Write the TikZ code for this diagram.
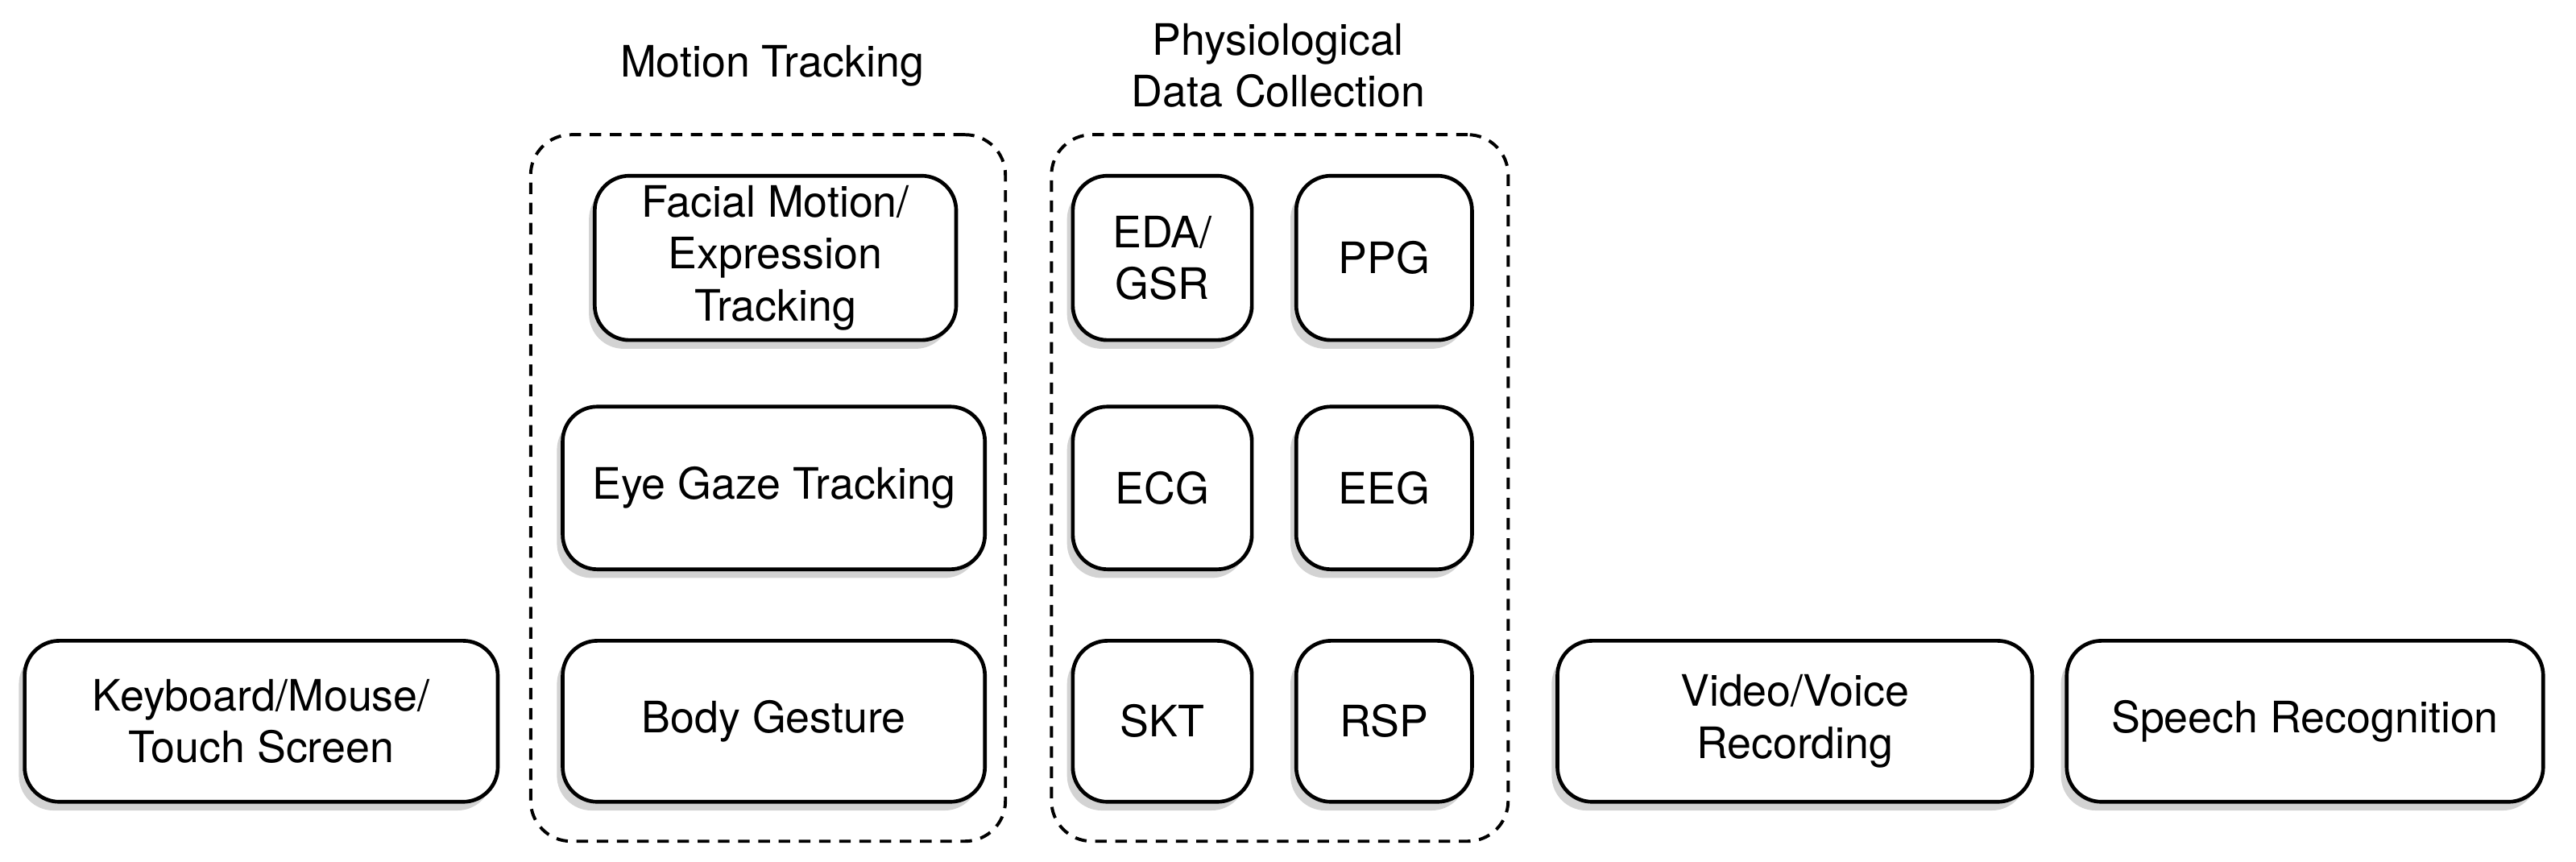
\documentclass[tikz,border=0pt]{standalone}
\usepackage{fontspec}
\setmainfont{TeX Gyre Heros}
\usetikzlibrary{
		positioning,
		shadows
	}
\tikzset{
		>=stealth,
		box/.style={draw, line width=1.3pt, rounded corners=12pt, fill=white, align=center,
			font=\fontsize{15}{18}\selectfont,
			drop shadow={shadow xshift=-2pt, shadow yshift=-3pt, opacity=.35, fill=gray}},
		group/.style={draw, line width=1.1pt, dash pattern=on 4pt off 3pt, rounded corners=14pt},
		title/.style={align=center, font=\fontsize{15}{18}\selectfont}
	}
\begin{document}
\begin{tikzpicture}
          \useasboundingbox (0,0) rectangle (31.36,10.49);

          % groups
          \node[group, minimum width=5.78cm, minimum height=8.6cm] (motion) at (9.35,4.55) {};
          \node[group, minimum width=5.56cm, minimum height=8.6cm] (physio) at (15.58,4.55) {};
          \node[title] (motiontitle) at (9.4,9.69) {Motion Tracking};
          \node[title] (physiotitle) at (15.56,9.69) {Physiological\\Data Collection};

          % motion tracking
          \node[box, minimum width=4.4cm, minimum height=2.0cm] (face) at (9.44,7.35) {Facial Motion/\\Expression\\Tracking};
          \node[box, minimum width=5.14cm, minimum height=1.98cm] (eye) at (9.42,4.55) {Eye Gaze Tracking};
          \node[box, minimum width=5.14cm, minimum height=1.96cm] (body) at (9.42,1.71) {Body Gesture};

          % physiological
          \node[box, minimum width=2.18cm, minimum height=2.0cm] (eda) at (14.15,7.35) {EDA/\\GSR};
          \node[box, minimum width=2.14cm, minimum height=2.0cm] (ppg) at (16.85,7.35) {PPG};
          \node[box, minimum width=2.18cm, minimum height=1.98cm] (ecg) at (14.15,4.55) {ECG};
          \node[box, minimum width=2.14cm, minimum height=1.98cm] (eeg) at (16.85,4.55) {EEG};
          \node[box, minimum width=2.18cm, minimum height=1.96cm] (skt) at (14.15,1.71) {SKT};
          \node[box, minimum width=2.14cm, minimum height=1.96cm] (rsp) at (16.85,1.71) {RSP};

          % others
          \node[box, minimum width=5.76cm, minimum height=1.96cm] (keyboard) at (3.18,1.71) {Keyboard/Mouse/\\Touch Screen};
          \node[box, minimum width=5.78cm, minimum height=1.96cm] (video) at (21.85,1.71) {Video/Voice\\Recording};
          \node[box, minimum width=5.8cm, minimum height=1.96cm] (speech) at (28.06,1.71) {Speech Recognition};

\end{tikzpicture}
\end{document}
